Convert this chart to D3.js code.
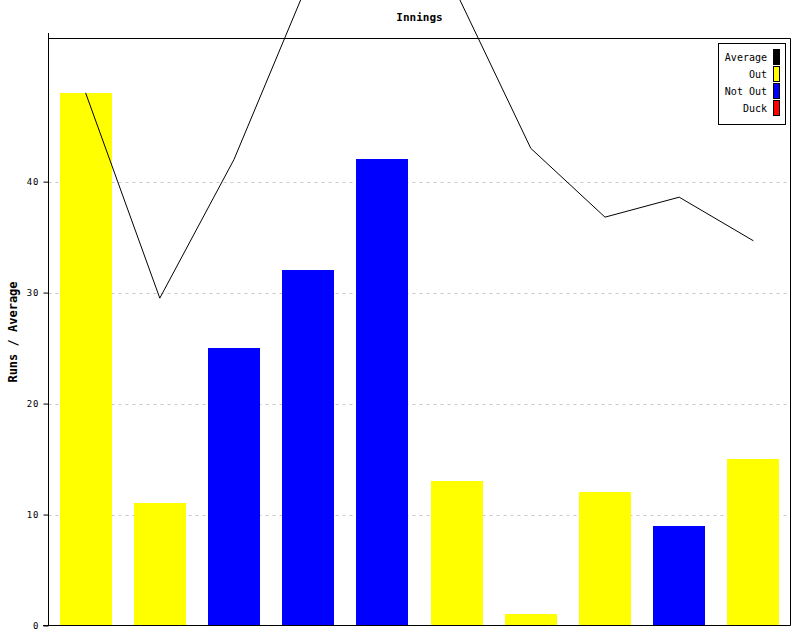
<!DOCTYPE html>
<html><head><meta charset="utf-8">
<script src="https://cdn.jsdelivr.net/npm/d3@7"></script>
<style>body{margin:0;background:#fff}svg{display:block}</style>
</head><body><svg id="c" width="800" height="640"></svg>
<script>
const innings = ["1","2","3","4","5","6","7","8","9","10"];
const runs = [48, 11, 25, 32, 42, 13, 1, 12, 9, 15];
const status = ["Out","Out","Not Out","Not Out","Not Out","Out","Out","Out","Not Out","Out"];
const average = [48, 29.5, 42, 58, 79, 57, 43, 36.8, 38.6, 34.67];
const yTicks = [0, 10, 20, 30, 40];
const legendLabels = ["Average", "Out", "Not Out", "Duck"];
const legendColors = ["#000000", "#ffff00", "#0000ff", "#ff0000"];
const statusColor = {"Out": "#ffff00", "Not Out": "#0000ff", "Duck": "#ff0000"};

const svg = d3.select("#c");
const L = 48.5, R = 790.5, T = 38.5, B = 625.5;
const x = d3.scaleBand().domain(innings).range([L, R]).paddingInner(0.3).paddingOuter(0.15);
const y = d3.scaleLinear().domain([0, 52.9]).range([B, T]);

// gridlines
svg.append("g").selectAll("line").data(yTicks.filter(d => d > 0)).join("line")
  .attr("x1", L).attr("x2", R).attr("y1", d => Math.round(y(d)) + 0.5).attr("y2", d => Math.round(y(d)) + 0.5)
  .attr("stroke", "#c8c8c8").attr("stroke-dasharray", "3,4");

// bars
svg.append("g").selectAll("rect").data(runs).join("rect")
  .attr("x", (d, i) => Math.round(x(innings[i])))
  .attr("width", Math.round(x.bandwidth()))
  .attr("y", d => Math.round(y(d)))
  .attr("height", d => Math.round(B) - Math.round(y(d)))
  .attr("fill", (d, i) => statusColor[status[i]]);

// average line
const line = d3.line().x((d, i) => x(innings[i]) + x.bandwidth() / 2).y(d => y(d));
svg.append("path").datum(average).attr("d", line).attr("fill", "none").attr("stroke", "#000").attr("stroke-width", 1);

// frame
svg.append("line").attr("x1", L).attr("x2", R).attr("y1", T).attr("y2", T).attr("stroke", "#000");
svg.append("line").attr("x1", R).attr("x2", R).attr("y1", T).attr("y2", B).attr("stroke", "#000");

// y axis
const yAxis = d3.axisLeft(y).tickValues(yTicks).tickSize(5).tickPadding(4).tickSizeOuter(0);
const ga = svg.append("g").attr("transform", `translate(${L},0)`).call(yAxis);
ga.select(".domain").remove();
ga.selectAll("text").attr("font-family", "DejaVu Sans Mono").attr("font-size", 9).attr("letter-spacing", "1px").attr("fill", "#000");
ga.selectAll("line").attr("stroke", "#000");
svg.append("line").attr("x1", L).attr("x2", L).attr("y1", 33).attr("y2", B).attr("stroke", "#000");
// x axis
svg.append("line").attr("x1", 43).attr("x2", R).attr("y1", B).attr("y2", B).attr("stroke", "#000");

// title
svg.append("text").attr("x", (L + R) / 2).attr("y", 21).attr("text-anchor", "middle")
  .attr("font-family", "DejaVu Sans Mono").attr("font-weight", "bold").attr("font-size", 11).text("Innings");

// y label
svg.append("text").attr("transform", `translate(17,${(T + B) / 2}) rotate(-90)`).attr("text-anchor", "middle")
  .attr("font-family", "DejaVu Sans Mono").attr("font-weight", "bold").attr("font-size", 12).text("Runs / Average");

// legend
const lg = svg.append("g");
lg.append("rect").attr("x", 718.5).attr("y", 43.5).attr("width", 67).attr("height", 81).attr("fill", "#fff").attr("stroke", "#000");
const rows = lg.selectAll("g.r").data(legendLabels).join("g").attr("class", "r")
  .attr("transform", (d, i) => `translate(0,${57 + i * 17})`);
rows.append("rect").attr("x", 773.5).attr("y", -7.5).attr("width", 6).attr("height", 15)
  .attr("fill", (d, i) => legendColors[i]).attr("stroke", "#000");
rows.append("text").attr("x", 767).attr("y", 4).attr("text-anchor", "end")
  .attr("font-family", "DejaVu Sans Mono").attr("font-size", 10).text(d => d);
</script></body></html>
